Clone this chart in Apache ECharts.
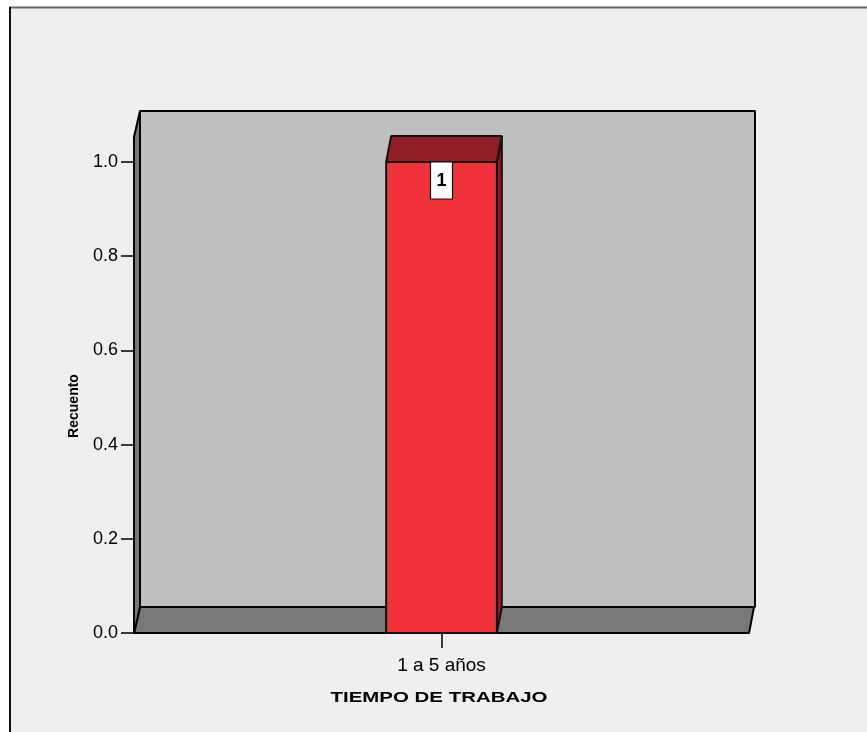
<!DOCTYPE html>
<html>
<head>
<meta charset="utf-8">
<script src="https://cdn.jsdelivr.net/npm/echarts@6/dist/echarts.min.js"></script>
<style>
  html, body { margin: 0; padding: 0; background: #ffffff; }
  #chart { width: 867px; height: 732px; }
</style>
</head>
<body>
<div id="chart"></div>
<script>
// Frequency of "tiempo de trabajo"
const categories = ['1 a 5 años'];
const counts = [1];
const yTicks = [0, 0.2, 0.4, 0.6, 0.8, 1.0];
const xTitle = 'TIEMPO DE TRABAJO';
const yTitle = 'Recuento';

// 3D look: depth offset of the back plane and the height of the walls
const DEPTH_X = 6;
const DEPTH_Y = -26;
const WALL_TOP = 1.053;
const FONT = '"Liberation Sans", Arial, sans-serif';

const chart = echarts.init(document.getElementById('chart'), null, { renderer: 'canvas' });

function wallsItem(params, api) {
  const cs = params.coordSys;
  const x0 = cs.x, x1 = cs.x + cs.width;
  const yb = api.coord([0, 0])[1];
  const yt = api.coord([0, WALL_TOP])[1];
  const dx = DEPTH_X, dy = DEPTH_Y;
  const edge = { stroke: '#000', lineWidth: 2, lineJoin: 'bevel' };
  return {
    type: 'group',
    children: [
      { // back wall
        type: 'rect',
        shape: { x: x0 + dx, y: yt + dy, width: x1 - x0, height: yb - yt },
        style: Object.assign({ fill: '#c0c0c0' }, edge)
      },
      { // floor
        type: 'polygon',
        shape: { points: [[x0, yb], [x1, yb], [x1 + dx - 1, yb + dy], [x0 + dx, yb + dy]] },
        style: Object.assign({ fill: '#787878' }, edge)
      },
      { // left wall
        type: 'polygon',
        shape: { points: [[x0, yb], [x0, yt], [x0 + dx, yt + dy], [x0 + dx, yb + dy]] },
        style: Object.assign({ fill: '#787878' }, edge)
      }
    ]
  };
}

function barItem(params, api) {
  const idx = api.value(0);
  const val = api.value(1);
  const base = api.coord([idx, 0]);
  const top = api.coord([idx, val]);
  const w = api.size([1, 0])[0] * 0.18;
  const xl = base[0] - w / 2, xr = base[0] + w / 2;
  const yb = base[1], yt = top[1];
  const dx = DEPTH_X - 1, dy = DEPTH_Y;
  const line = { stroke: '#111', lineWidth: 2, lineJoin: 'bevel' };
  return {
    type: 'group',
    children: [
      {
        type: 'polygon',
        shape: { points: [[xr, yb], [xr, yt], [xr + dx, yt + dy], [xr + dx, yb + dy]] },
        style: Object.assign({ fill: '#8c1c22' }, line)
      },
      {
        type: 'polygon',
        shape: { points: [[xl, yt], [xr, yt], [xr + dx, yt + dy], [xl + dx, yt + dy]] },
        style: Object.assign({ fill: '#931f26' }, line)
      },
      {
        type: 'rect',
        shape: { x: xl, y: yt, width: w, height: yb - yt },
        style: Object.assign({ fill: '#f2323a' }, line)
      },
      { // value label box
        type: 'rect',
        shape: { x: base[0] - 11, y: yt, width: 22, height: 37 },
        style: { fill: '#ffffff', stroke: '#111', lineWidth: 1.2 }
      },
      {
        type: 'text',
        style: {
          x: base[0], y: yt + 19,
          text: String(val),
          font: 'bold 18px ' + FONT,
          fill: '#000', align: 'center', verticalAlign: 'middle'
        }
      }
    ]
  };
}

const option = {
  backgroundColor: '#ffffff',
  animation: false,
  graphic: [
    { type: 'rect', z: -10, shape: { x: 10, y: 8, width: 870, height: 740 }, style: { fill: '#efefef' } },
    { type: 'line', z: -9, shape: { x1: 9, y1: 7.5, x2: 880, y2: 7.5 }, style: { stroke: '#666', lineWidth: 2 } },
    { type: 'line', z: -9, shape: { x1: 10, y1: 7, x2: 10, y2: 740 }, style: { stroke: '#111', lineWidth: 2 } },
    {
      type: 'text', x: 74, y: 406, rotation: Math.PI / 2,
      style: {
        text: yTitle, font: 'bold 14px ' + FONT,
        fill: '#000', align: 'center', verticalAlign: 'middle'
      }
    },
    {
      type: 'text', x: 439, y: 698, scaleX: 1.46,
      style: {
        text: xTitle, font: 'bold 14px ' + FONT,
        fill: '#000', align: 'center', verticalAlign: 'middle'
      }
    }
  ],
  grid: { left: 134, right: 118, top: 162, bottom: 99, containLabel: false },
  xAxis: {
    type: 'category',
    data: categories,
    axisLine: { show: false },
    axisTick: { show: true, alignWithLabel: true, length: 15, lineStyle: { color: '#000', width: 1.5 } },
    axisLabel: { color: '#000', fontSize: 19, fontFamily: FONT, margin: 23 }
  },
  yAxis: {
    type: 'value',
    min: 0,
    max: 1,
    interval: 0.2,
    axisLine: { show: true, lineStyle: { color: '#000', width: 2 } },
    axisTick: { show: true, length: 13, lineStyle: { color: '#000', width: 1.5 } },
    axisLabel: {
      color: '#000', fontSize: 18, fontFamily: FONT, margin: 16,
      formatter: v => yTicks.some(t => Math.abs(t - v) < 1e-9) ? v.toFixed(1) : ''
    },
    splitLine: { show: false }
  },
  series: [
    {
      type: 'custom',
      z: 1,
      renderItem: wallsItem,
      data: [[0, 0]],
      silent: true
    },
    {
      type: 'custom',
      z: 3,
      renderItem: barItem,
      encode: { x: 0, y: 1 },
      data: categories.map((c, i) => [i, counts[i]])
    }
  ]
};

chart.setOption(option);
</script>
</body>
</html>
